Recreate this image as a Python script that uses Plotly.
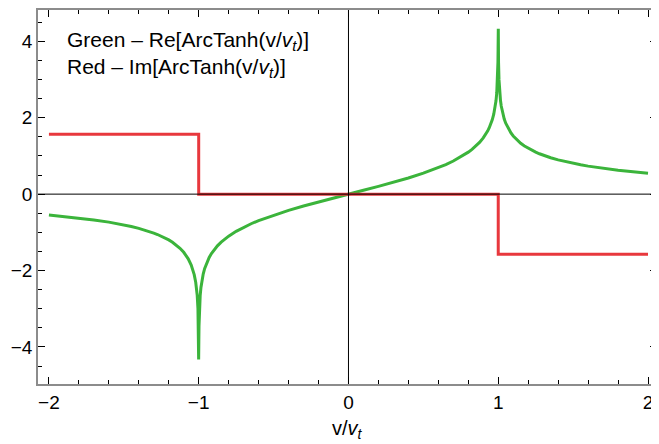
import plotly.graph_objects as go

# Re[ArcTanh(x)] values (left branch, middle, right branch)
x_green = [-2.0, -1.9, -1.8, -1.7, -1.6, -1.55, -1.5, -1.45, -1.4, -1.35, -1.3, -1.275, -1.25,
           -1.225, -1.2, -1.175, -1.15, -1.125, -1.1, -1.085, -1.07, -1.05, -1.04, -1.03, -1.02,
           -1.015, -1.01, -1.005, -1.002, -1.001, -1.0004, -1.00035,
           -0.99965, -0.999, -0.998, -0.995, -0.99, -0.985, -0.98, -0.97, -0.96, -0.95, -0.94,
           -0.93, -0.915, -0.9, -0.875, -0.85, -0.825, -0.8, -0.75, -0.7, -0.65, -0.6, -0.5,
           -0.4, -0.3, -0.2, -0.1, 0.0,
           0.1, 0.2, 0.3, 0.4, 0.5, 0.6, 0.65, 0.7, 0.75, 0.8, 0.825, 0.85, 0.875, 0.9, 0.915,
           0.93, 0.94, 0.95, 0.96, 0.97, 0.98, 0.985, 0.99, 0.995, 0.998, 0.999, 0.99965,
           1.00035, 1.0004, 1.001, 1.002, 1.005, 1.01, 1.015, 1.02, 1.03, 1.04, 1.05, 1.07,
           1.085, 1.1, 1.125, 1.15, 1.175, 1.2, 1.225, 1.25, 1.275, 1.3, 1.35, 1.4, 1.45, 1.5,
           1.55, 1.6, 1.7, 1.8, 1.9, 2.0]
y_green = [-0.549, -0.585, -0.626, -0.675, -0.733, -0.767, -0.805, -0.847, -0.896, -0.952, -1.020,
           -1.057, -1.099, -1.146, -1.199, -1.260, -1.331, -1.417, -1.522, -1.600, -1.694, -1.857,
           -1.966, -2.107, -2.308, -2.450, -2.652, -2.997, -3.454, -3.801, -4.259, -4.326,
           -4.325, -3.800, -3.453, -2.995, -2.647, -2.443, -2.298, -2.092, -1.946, -1.832, -1.738,
           -1.658, -1.557, -1.472, -1.354, -1.256, -1.172, -1.099, -0.973, -0.867, -0.775, -0.693,
           -0.549, -0.424, -0.310, -0.203, -0.100, 0.0,
           0.100, 0.203, 0.310, 0.424, 0.549, 0.693, 0.775, 0.867, 0.973, 1.099, 1.172, 1.256,
           1.354, 1.472, 1.557, 1.658, 1.738, 1.832, 1.946, 2.092, 2.298, 2.443, 2.647, 2.995,
           3.453, 3.800, 4.325,
           4.326, 4.259, 3.801, 3.454, 2.997, 2.652, 2.450, 2.308, 2.107, 1.966, 1.857, 1.694,
           1.600, 1.522, 1.417, 1.331, 1.260, 1.199, 1.146, 1.099, 1.057, 1.020, 0.952, 0.896,
           0.847, 0.805, 0.767, 0.733, 0.675, 0.626, 0.585, 0.549]

# Im[ArcTanh(x)] step values
x_red = [-2.0, -1.0, -1.0, 1.0, 1.0, 2.0]
y_red = [1.5708, 1.5708, 0.0, 0.0, -1.5708, -1.5708]

x_ticks = [-2, -1, 0, 1, 2]
x_labels = ["−2", "−1", "0", "1", "2"]
y_ticks = [-4, -2, 0, 2, 4]
y_labels = ["−4", "−2", "0", "2", "4"]

GREEN = "#3BB43B"
RED = "#E8383D"
FRAME = "#8c8c8c"
FONT = "Liberation Sans, Arial, sans-serif"

fig = go.Figure()
fig.add_trace(go.Scatter(x=x_green, y=y_green, mode="lines",
                         line=dict(color=GREEN, width=3), hoverinfo="skip"))
fig.add_trace(go.Scatter(x=x_red, y=y_red, mode="lines",
                         line=dict(color=RED, width=3), hoverinfo="skip"))

fig.update_layout(
    width=651, height=436,
    margin=dict(l=30, r=1, t=0, b=60),
    paper_bgcolor="white", plot_bgcolor="white",
    showlegend=False,
    font=dict(family=FONT, size=19, color="black"),
    shapes=[
        dict(type="line", xref="x", yref="paper", x0=0, x1=0, y0=0, y1=1,
             line=dict(color="black", width=1), layer="above"),
        dict(type="line", xref="paper", yref="y", x0=0, x1=1, y0=0, y1=0,
             line=dict(color="black", width=1), layer="above"),
    ],
    annotations=[
        dict(x=0.043, y=0.918, xref="paper", yref="paper", xanchor="left", yanchor="middle",
             showarrow=False, font=dict(size=21, family=FONT),
             text="Green – Re[ArcTanh(v/<i>v</i><sub><i>t</i></sub>)]"),
        dict(x=0.043, y=0.844, xref="paper", yref="paper", xanchor="left", yanchor="middle",
             showarrow=False, font=dict(size=21, family=FONT),
             text="Red – Im[ArcTanh(v/<i>v</i><sub><i>t</i></sub>)]"),
        dict(x=0.5, y=-0.122, xref="paper", yref="paper", xanchor="center", yanchor="middle",
             showarrow=False, font=dict(size=20, family=FONT),
             text="v/<i>v</i><sub><i>t</i></sub>"),
    ],
)

fig.update_xaxes(
    range=[-2.073, 2.06], tickvals=x_ticks, ticktext=x_labels,
    ticks="inside", ticklen=7, tickcolor="black", tickwidth=1,
    minor=dict(dtick=0.2, tick0=0, ticks="inside", ticklen=4, tickcolor="black"),
    showline=True, linecolor=FRAME, linewidth=1.5, mirror="ticks",
    showgrid=False, zeroline=False,
    tickfont=dict(size=19, family=FONT),
)
fig.update_yaxes(
    range=[-4.97, 4.82], tickvals=y_ticks, ticktext=y_labels,
    ticks="inside", ticklen=7, tickcolor="black", tickwidth=1,
    minor=dict(dtick=0.5, tick0=0, ticks="inside", ticklen=4, tickcolor="black"),
    showline=True, linecolor=FRAME, linewidth=1.5, mirror="ticks",
    showgrid=False, zeroline=False,
    tickfont=dict(size=19, family=FONT),
)

fig.write_html("out.html")
